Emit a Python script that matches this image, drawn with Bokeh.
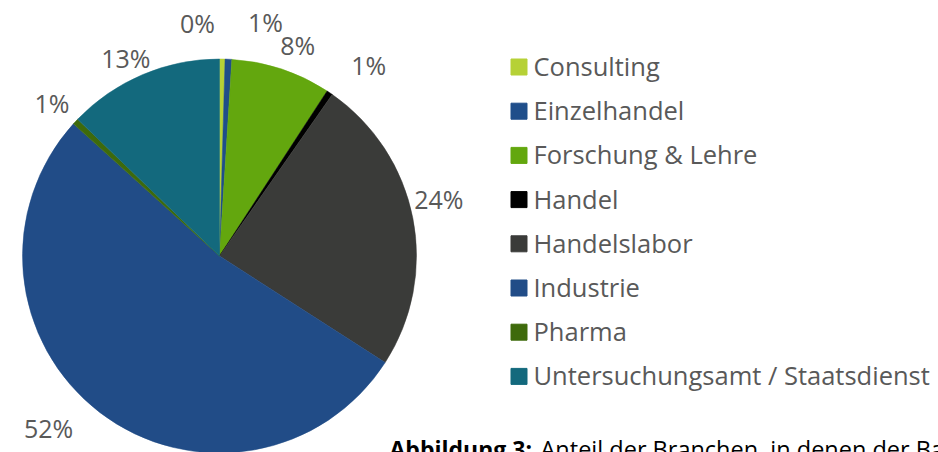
import math
from bokeh.plotting import figure
from bokeh.models import Range1d, ColumnDataSource
from bokeh.core.properties import value
from bokeh.embed import file_html
from bokeh.resources import INLINE

categories = ["Consulting", "Einzelhandel", "Forschung & Lehre", "Handel",
              "Handelslabor", "Industrie", "Pharma", "Untersuchungsamt / Staatsdienst"]
shares = [0.45, 0.55, 8.2, 0.5, 24.4, 52.6, 0.5, 12.8]
labels = ["0%", "1%", "8%", "1%", "24%", "52%", "1%", "13%"]
colors = ["#B6D136", "#1F4E8A", "#63A70E", "#000000",
          "#3A3B39", "#214C87", "#3E6A0B", "#13697D"]
caption_bold = "Abbildung 3:"
caption_rest = "Anteil der Branchen, in  denen der Bachelor-Absolventen tätig sind"

# label placement styles (angle nudge in degrees, radius factor)
label_nudge = [-6.2, 8.5, 2.0, 4.0, -3.4, 7.4, -0.7, -2.3]
label_rfac = [1.19, 1.21, 1.14, 1.23, 1.15, 1.23, 1.15, 1.11]

W, H = 938, 452
CX, CY, R = 219, -255.5, 197
FONT = "Open Sans"
GREY = "#595959"

p = figure(width=W, height=H, output_backend="svg", toolbar_location=None,
           x_range=Range1d(0, W), y_range=Range1d(-H, 0),
           min_border=0)
p.axis.visible = False
p.grid.visible = False
p.outline_line_color = None
p.background_fill_color = "white"
p.border_fill_color = "white"

total = sum(shares)
cum = 0.0
starts, ends, lx, ly = [], [], [], []
for i, s in enumerate(shares):
    a0 = cum / total
    a1 = (cum + s) / total
    cum += s
    starts.append(math.pi / 2 - a1 * 2 * math.pi)
    ends.append(math.pi / 2 - a0 * 2 * math.pi)
    mid = (a0 + a1) / 2 * 360 + label_nudge[i]
    rr = R * label_rfac[i]
    lx.append(CX + rr * math.sin(math.radians(mid)))
    ly.append(CY + rr * math.cos(math.radians(mid)))

src = ColumnDataSource(dict(start=starts, end=ends, color=colors))
p.wedge(x=CX, y=CY, radius=R, start_angle="start", end_angle="end",
        fill_color="color", line_color="color", line_width=0.5, source=src)

p.text(x=lx, y=ly, text=labels, text_font=value(FONT), text_font_size="25px",
       text_color=GREY, text_align="center", text_baseline="middle")

# legend
ly0, dy = -66.5, 44.2
leg_y = [ly0 - i * dy for i in range(len(categories))]
p.scatter(x=[518.5] * len(categories), y=leg_y, marker="square", size=16,
          fill_color=colors, line_color=colors)
p.text(x=[533] * len(categories), y=[v + 1 for v in leg_y], text=categories,
       text_font=value(FONT), text_font_size="25.5px", text_color=GREY,
       text_align="left", text_baseline="middle")

# caption (partially cut off at bottom, as in the source)
p.text(x=[389], y=[-448.5], text=[caption_bold], text_font=value(FONT),
       text_font_size="23px", text_font_style="bold", text_color="#000000",
       text_align="left", text_baseline="alphabetic")
p.text(x=[540], y=[-448.5], text=[caption_rest], text_font=value(FONT),
       text_font_size="23.5px", text_color="#000000",
       text_align="left", text_baseline="alphabetic")

open("out.html", "w").write(file_html(p, INLINE))
